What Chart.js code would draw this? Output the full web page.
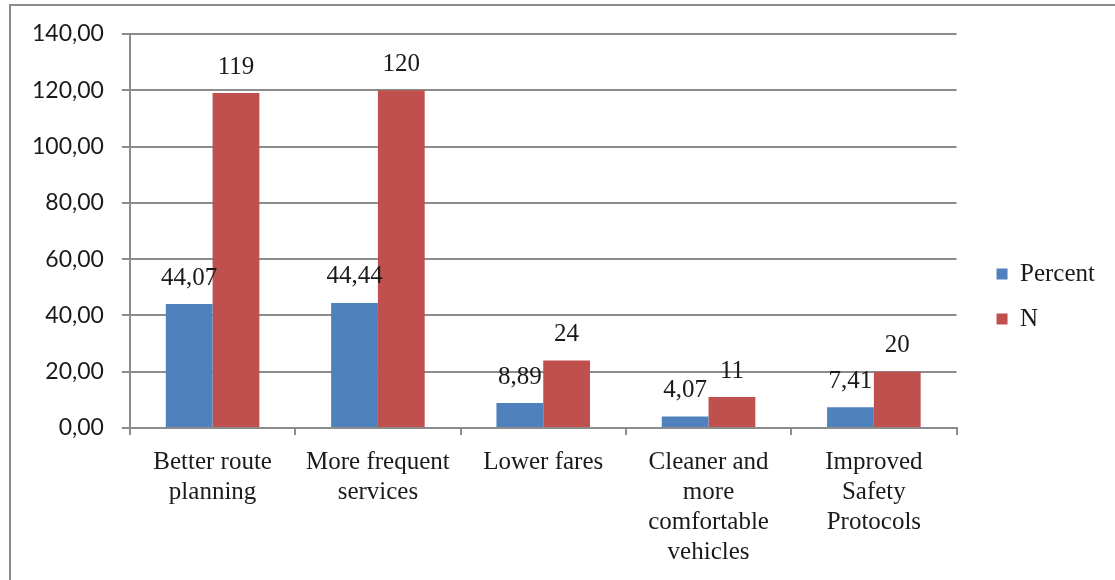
<!DOCTYPE html>
<html>
<head>
<meta charset="utf-8">
<script src="https://cdn.jsdelivr.net/npm/chart.js@4/dist/chart.umd.min.js"></script>
<style>
  html, body { margin: 0; padding: 0; background: #fff; }
  #wrap { position: relative; width: 1115px; height: 580px; overflow: hidden; }
  #frame { position: absolute; left: 9px; top: 4px; width: 1120px; height: 600px; border-left: 2px solid #8c8c8c; border-top: 2px solid #8c8c8c; }
  canvas { position: absolute; left: 0; top: 0; }
</style>
</head>
<body>
<div id="wrap">
  <div id="frame"></div>
  <canvas id="chart" width="1115" height="580"></canvas>
</div>
<script>
// chart data
const categories = [
  ['Better route', 'planning'],
  ['More frequent', 'services'],
  ['Lower fares'],
  ['Cleaner and', 'more', 'comfortable', 'vehicles'],
  ['Improved', 'Safety', 'Protocols']
];
const percentValues = [44.07, 44.44, 8.89, 4.07, 7.41];
const nValues = [119, 120, 24, 11, 20];
const yTicks = [0, 20, 40, 60, 80, 100, 120, 140];

const serif = '"Liberation Serif", "Times New Roman", serif';
const sans = 'Lato, "Open Sans", sans-serif';
const gridColor = '#8c8c8c';
const legendShiftX = 20;
const legendShiftY = -10;

const fmtComma = (v, d) => v.toFixed(d).replace('.', ',');

// draws the value labels above each bar
const barLabels = {
  id: 'barLabels',
  afterDatasetsDraw(chart) {
    const ctx = chart.ctx;
    ctx.save();
    ctx.font = '25px ' + serif;
    ctx.fillStyle = '#1a1a1a';
    ctx.textAlign = 'center';
    ctx.textBaseline = 'middle';
    chart.data.datasets.forEach((ds, i) => {
      chart.getDatasetMeta(i).data.forEach((bar, j) => {
        const v = ds.data[j];
        const txt = i === 0 ? fmtComma(v, 2) : String(v);
        ctx.fillText(txt, bar.x, bar.y - 26);
      });
    });
    ctx.restore();
  }
};

// nudge the legend: wider gap from the plot, a bit higher
const legendGap = {
  id: 'legendGap',
  afterLayout(chart) {
    const lg = chart.legend;
    if (lg) {
      lg.left += legendShiftX;
      lg.right += legendShiftX;
      lg.top += legendShiftY;
      lg.bottom += legendShiftY;
    }
  }
};

new Chart(document.getElementById('chart').getContext('2d'), {
  type: 'bar',
  data: {
    labels: categories,
    datasets: [
      { label: 'Percent', data: percentValues, backgroundColor: '#4F81BD' },
      { label: 'N', data: nValues, backgroundColor: '#C0504D' }
    ]
  },
  options: {
    responsive: false,
    animation: false,
    devicePixelRatio: 1,
    categoryPercentage: 0.566,
    barPercentage: 1,
    layout: { padding: { left: 14, top: 34, right: 30, bottom: 1 } },
    plugins: {
      legend: {
        position: 'right',
        labels: {
          font: { family: serif, size: 25 },
          color: '#1a1a1a',
          boxWidth: 11,
          boxHeight: 11,
          padding: 20
        }
      },
      tooltip: { enabled: false }
    },
    scales: {
      x: {
        grid: { drawOnChartArea: false, drawTicks: true, tickLength: 7, color: gridColor, lineWidth: 2 },
        border: { color: gridColor, width: 2 },
        ticks: { font: { family: serif, size: 25, lineHeight: 1.2 }, color: '#1a1a1a', padding: 12, maxRotation: 0 }
      },
      y: {
        min: 0,
        max: 140,
        afterBuildTicks: axis => { axis.ticks = yTicks.map(v => ({ value: v })); },
        grid: { color: gridColor, lineWidth: 2, tickLength: 8 },
        border: { color: gridColor, width: 2 },
        ticks: {
          font: { family: sans, size: 23 },
          color: '#1a1a1a',
          padding: 18,
          callback: v => fmtComma(v, 2)
        }
      }
    }
  },
  plugins: [barLabels, legendGap]
});
</script>
</body>
</html>
